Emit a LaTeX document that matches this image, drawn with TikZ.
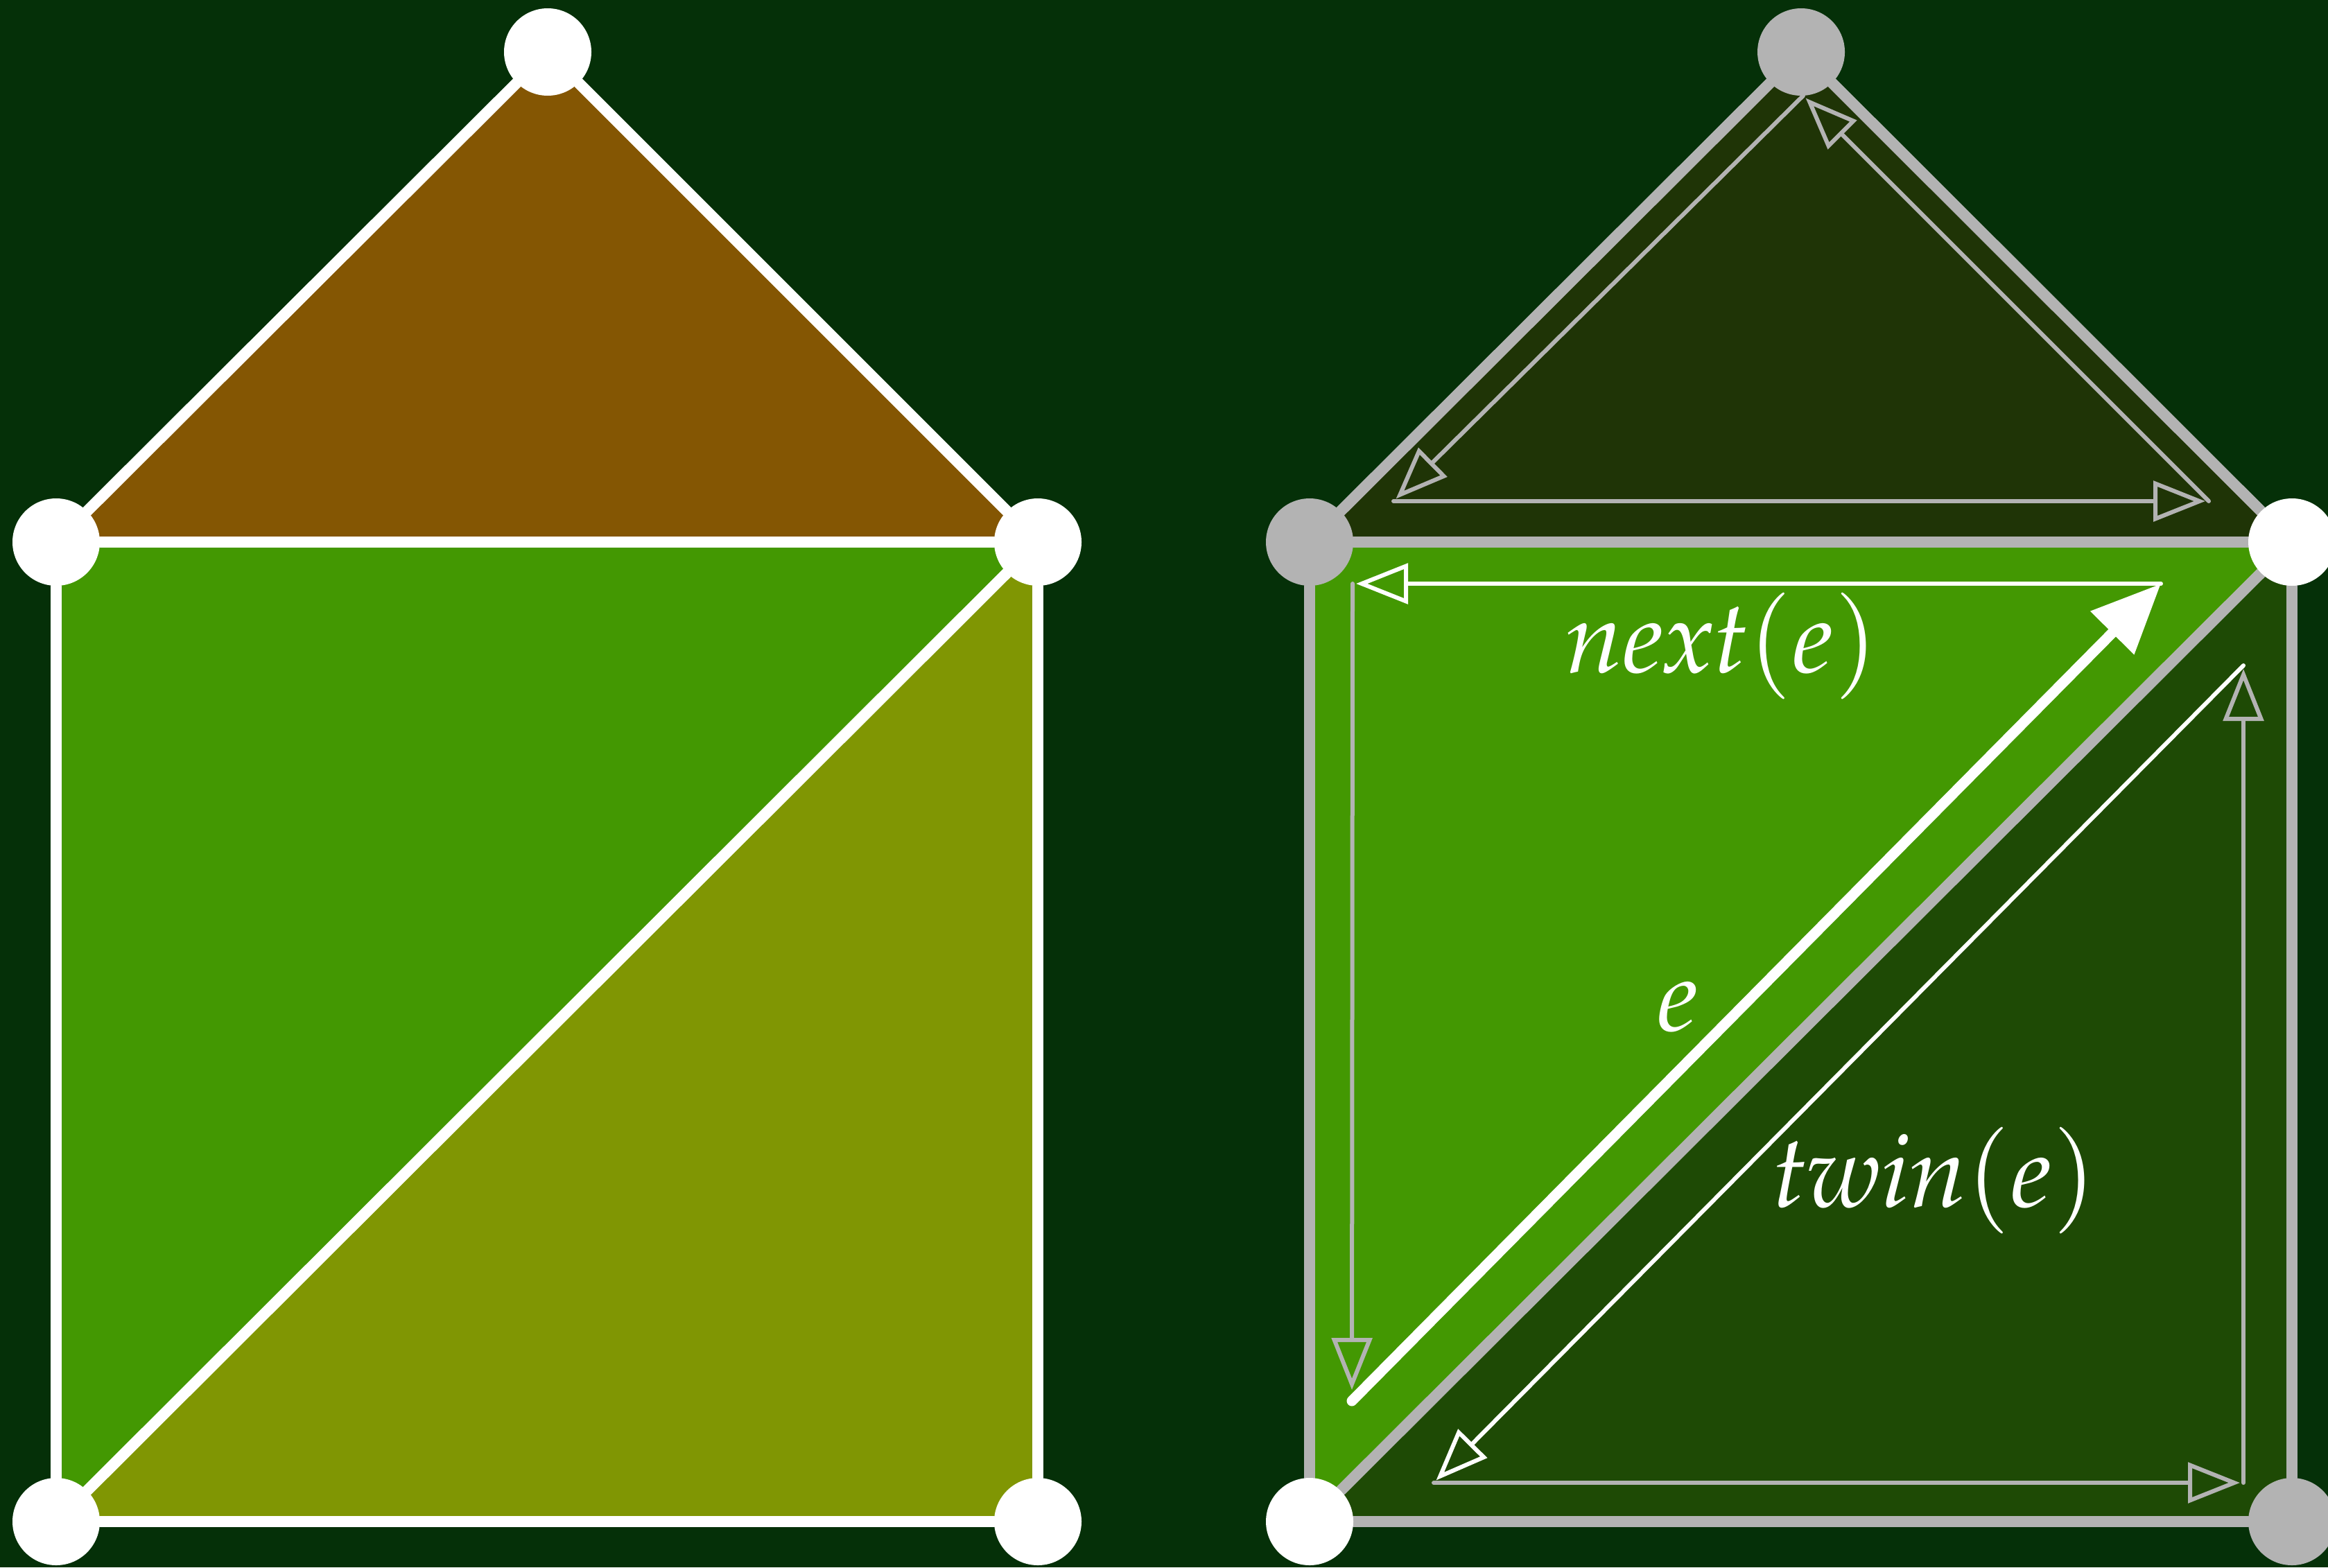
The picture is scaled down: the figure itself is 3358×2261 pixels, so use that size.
\documentclass[tikz,border=0pt]{standalone}
\usepackage{mathpazo}
\usepackage{xcolor}
\usepackage{tikz}
\usetikzlibrary{arrows.meta}
\definecolor{bgc}{RGB}{5,48,8}
\definecolor{ebrown}{RGB}{132,86,3}
\definecolor{egreen}{RGB}{67,152,2}
\definecolor{eolive}{RGB}{128,150,3}
\definecolor{edark}{RGB}{31,52,6}
\definecolor{emoss}{RGB}{30,74,5}
\definecolor{egray}{RGB}{179,179,179}
\pgfdeclarelayer{canvas}
\pgfdeclarelayer{faces}
\pgfsetlayers{canvas,faces,main}
\tikzset{
  vtx/.style={circle, fill=white, minimum size=12.6mm, inner sep=0pt},
  gvtx/.style={vtx, fill=egray},
  wedge/.style={draw=white, line width=1.6mm, line cap=round},
  gedge/.style={draw=egray, line width=1.6mm, line cap=round},
  half/.style={-{Triangle[open, length=7.5mm, width=5.8mm]}, line width=0.6mm,
    line cap=round, shorten >=0.5mm},
  ghalf/.style={half, draw=egray},
  whalf/.style={half, draw=white},
  heavy/.style={-{Triangle[length=10mm, width=8.5mm]}, draw=white, line width=1.5mm,
    line cap=round},
  lbl/.style={text=white, inner sep=0pt, font=\fontsize{42}{50}\selectfont}
}

\begin{document}
\begin{tikzpicture}[x=0.1mm, y=-0.1mm]
\useasboundingbox (0,0) rectangle (3358,2261);
\begin{pgfonlayer}{canvas}
  \fill[bgc] (0,0) rectangle (3358,2261);
\end{pgfonlayer}
% ---------- left mesh: vertices ----------
\node[vtx] (t1) at (790,75)   {};
\node[vtx] (a1) at (81,782)   {};
\node[vtx] (b1) at (1497,782) {};
\node[vtx] (c1) at (81,2195)  {};
\node[vtx] (d1) at (1497,2195){};
% ---------- right mesh: vertices ----------
\node[gvtx] (t2) at (2598,75)   {};
\node[gvtx] (a2) at (1889,782)  {};
\node[vtx]  (b2) at (3306,782)  {};
\node[vtx]  (c2) at (1889,2195) {};
\node[gvtx] (d2) at (3306,2195) {};
% ---------- faces and edges (behind the vertices) ----------
\begin{pgfonlayer}{faces}
  \fill[ebrown] (t1.center) -- (a1.center) -- (b1.center) -- cycle;
  \fill[egreen] (a1.center) -- (b1.center) -- (c1.center) -- cycle;
  \fill[eolive] (b1.center) -- (d1.center) -- (c1.center) -- cycle;
  \draw[wedge] (t1) -- (a1);
  \draw[wedge] (t1) -- (b1);
  \draw[wedge] (a1) -- (b1);
  \draw[wedge] (a1) -- (c1);
  \draw[wedge] (b1) -- (d1);
  \draw[wedge] (b1) -- (c1);
  \draw[wedge] (c1) -- (d1);
  \fill[edark]  (t2.center) -- (a2.center) -- (b2.center) -- cycle;
  \fill[egreen] (a2.center) -- (b2.center) -- (c2.center) -- cycle;
  \fill[emoss]  (b2.center) -- (d2.center) -- (c2.center) -- cycle;
  \draw[gedge] (t2) -- (a2);
  \draw[gedge] (t2) -- (b2);
  \draw[gedge] (a2) -- (b2);
  \draw[gedge] (a2) -- (c2);
  \draw[gedge] (b2) -- (d2);
  \draw[gedge] (b2) -- (c2);
  \draw[gedge] (c2) -- (d2);
\end{pgfonlayer}
% ---------- half-edge corners ----------
\coordinate (rt)  at (2601,138);
\coordinate (rl)  at (2010,723);
\coordinate (rr)  at (3186,723);
\coordinate (qtl) at (1951,842);
\coordinate (qtr) at (3117,842);
\coordinate (qbl) at (1950,2021);
\coordinate (pt)  at (3236,960);
\coordinate (pbl) at (2068,2139);
\coordinate (pbr) at (3236,2139);
% ---------- half-edges ----------
\draw[ghalf] (rt) -- (rl);
\draw[ghalf] (rl) -- (rr);
\draw[ghalf] (rr) -- (rt);
\draw[heavy] (qbl) -- (qtr);
\draw[whalf] (qtr) -- (qtl);
\draw[ghalf, shorten >=1.6mm] (qtl) -- (qbl);
\draw[whalf] (pt) -- (pbl);
\draw[ghalf] (pbl) -- (pbr);
\draw[ghalf] (pbr) -- (pt);
% ---------- labels ----------
\node[lbl] (nxt) at (2484,932)  {$\mathit{next}(e)$};
\node[lbl] (lbe) at (2420,1452) {$e$};
\node[lbl] (twn) at (2791,1703) {$\mathit{twin}(e)$};
\end{tikzpicture}
\end{document}
